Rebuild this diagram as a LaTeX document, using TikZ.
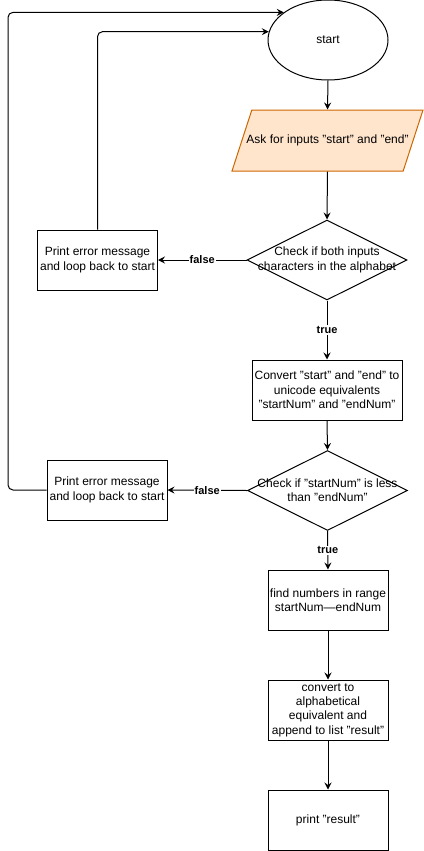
\documentclass[tikz,border=0pt]{standalone}
\usepackage{fontspec}
\setmainfont{Liberation Sans}
\usetikzlibrary{arrows.meta}
\usetikzlibrary{shapes.geometric}

\begin{document}
\begin{tikzpicture}[x=1pt,y=-1pt,line width=1pt,
    txt/.style={align=center,inner sep=0,font=\fontsize{12}{14.3}\selectfont},
    box/.style={txt,draw,rectangle,minimum width=120,minimum height=60},
    dec/.style={draw,diamond,minimum width=160,minimum height=80,inner sep=0},
    io/.style={draw=orange!80!black,fill=orange!20,trapezium,trapezium left angle=72,
        trapezium right angle=108,trapezium stretches body,minimum width=191,
        inner xsep=0,inner ysep=30.5pt},
    arr/.style={-{Stealth[length=7pt,width=7pt,inset=2.5pt]}},
    lbl/.style={fill=white,inner sep=1pt,font=\fontsize{11}{13}\selectfont\bfseries}
    ]
    \useasboundingbox (0,0) rectangle (423,851);

    % draws shapes
    \node[draw,ellipse,minimum width=120,minimum height=80,txt] (start) at (328,40) {start};
    \node[io,label={[txt]center:{Ask for inputs "start" and "end"}}] (ask) at (327.5,140.5) {};
    \node[dec,label={[txt]center:{Check if both inputs\\characters in the alphabet}}] (chk1) at (327,260) {};
    \node[box] (err1) at (97.5,260) {Print error message\\and loop back to start};
    \node[box,minimum width=150] (conv) at (327,390) {Convert "start" and "end" to\\unicode equivalents\\"startNum" and "endNum"};
    \node[dec,label={[txt]center:{Check if "startNum" is less\\than "endNum"}}] (chk2) at (327.5,490.5) {};
    \node[box] (err2) at (107,490) {Print error message\\and loop back to start};
    \node[box] (find) at (328,600) {find numbers in range\\startNum—endNum};
    \node[box] (alpha) at (328,710) {convert to\\alphabetical\\equivalent and\\append to list "result"};
    \node[box] (print) at (328,820) {print "result"};
    \coordinate (bend) at (8,490);

    % draws edges
    \draw[arr] (start.south) -- (ask.north);
    \draw[arr] (ask.south) -- (chk1.north);
    \draw[arr] (chk1.south) -- node[lbl] {true} (conv.north);
    \draw[arr] (chk1.west) -- node[lbl] {false} (err1.east);
    \draw[arr] (conv.south) -- (chk2.north);
    \draw[arr] (chk2.west) -- node[lbl] {false} (err2.east);
    \draw[arr] (chk2.south) -- node[lbl] {true} (find.north);
    \draw[arr] (find) -- (alpha);
    \draw[arr] (alpha) -- (print);

    % draws loops back
    \draw[arr,rounded corners=5pt] (err1.north) |- (start.172);
    \draw[arr,rounded corners=5pt] (err2.west) -- (bend) |- (start.148);
\end{tikzpicture}
\end{document}
